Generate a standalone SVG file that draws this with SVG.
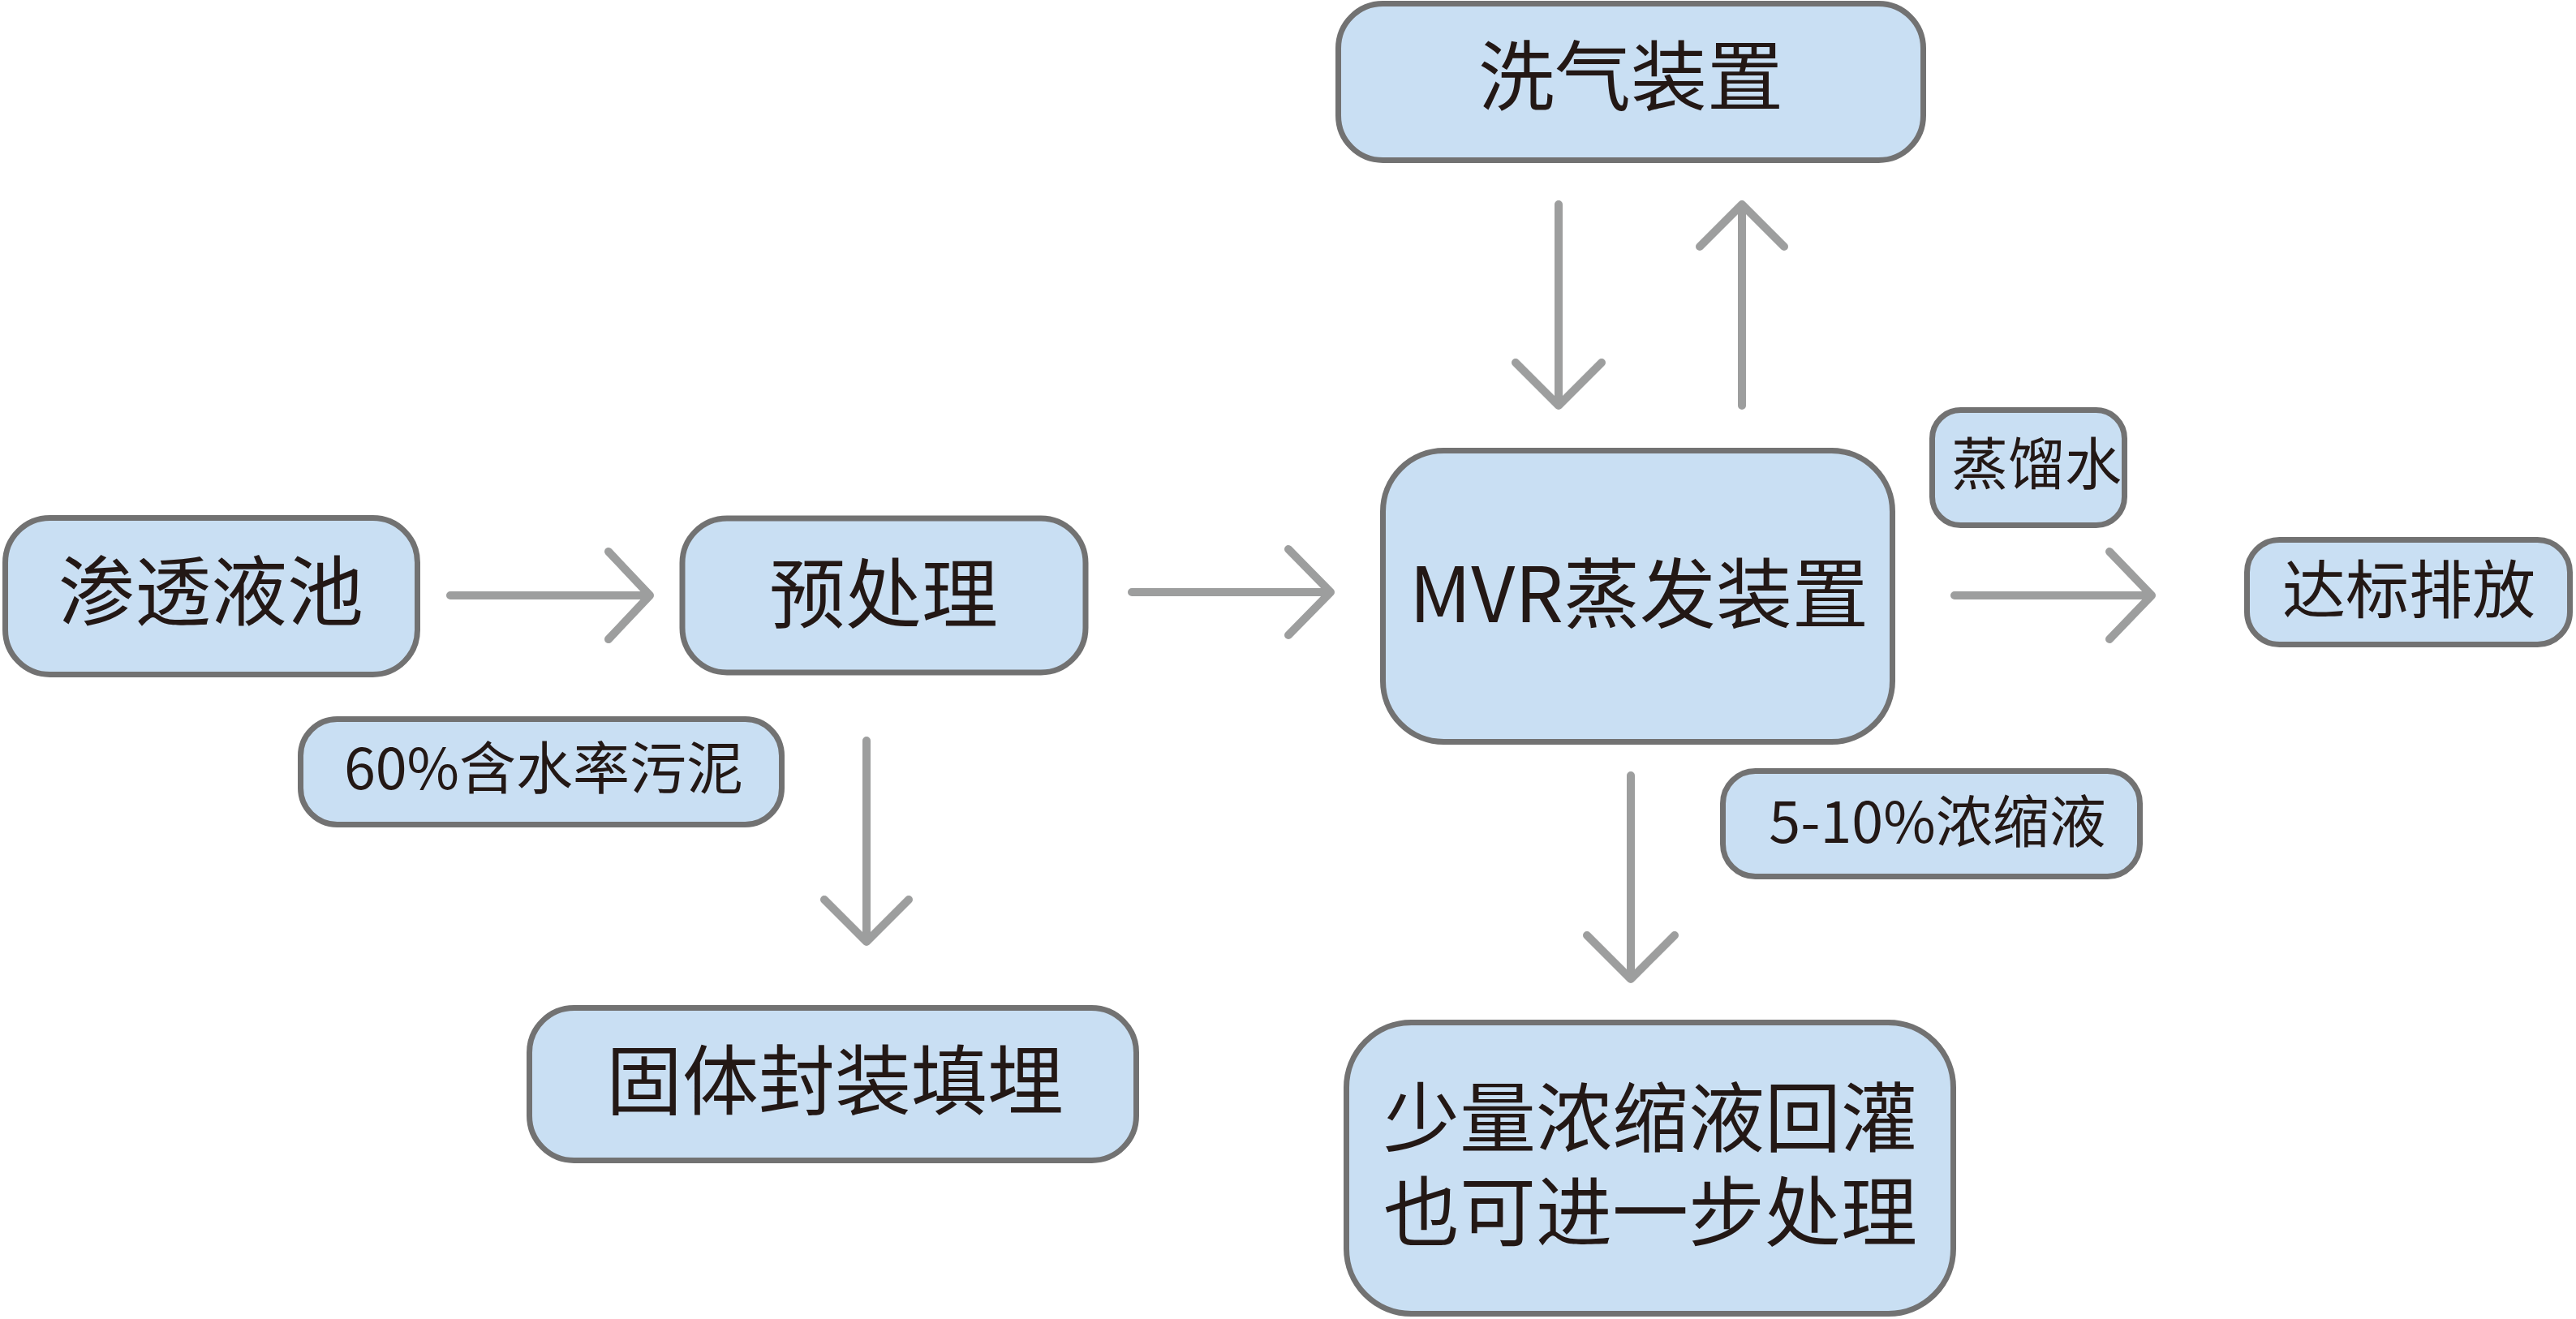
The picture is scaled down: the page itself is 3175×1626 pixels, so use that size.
<svg xmlns="http://www.w3.org/2000/svg" width="3175" height="1626" viewBox="0 0 3175 1626">
<style>
.box{fill:#c9dff3;stroke:#727272;stroke-width:7}
.t{font-family:"Noto Sans CJK SC","Noto Sans",sans-serif;fill:#231815;text-anchor:middle}
.big{font-size:94px}
.mid{font-size:78px}
.sm{font-size:70px}
.c{fill:none;stroke:#9d9e9e;stroke-width:10;stroke-linecap:round;stroke-linejoin:round}
</style>
<rect width="3175" height="1626" fill="#ffffff"/>
<g id="n-shentou"><rect class="box" x="6.5" y="638.5" width="508" height="193" rx="55"/><text class="t big" x="260" y="764">渗透液池</text></g>
<g id="n-yuchuli"><rect class="box" x="841" y="639" width="497" height="190" rx="55"/><text class="t big" x="1089" y="767">预处理</text></g>
<g id="n-wuni"><rect class="box" x="370.5" y="886.5" width="593" height="130" rx="45"/><text class="t sm" x="670" y="973">60%含水率污泥</text></g>
<g id="n-guti"><rect class="box" x="652.5" y="1242.5" width="748" height="188" rx="55"/><text class="t big" x="1029" y="1367">固体封装填埋</text></g>
<g id="n-xiqi"><rect class="box" x="1649.5" y="4.5" width="721" height="193" rx="55"/><text class="t big" x="2010" y="129">洗气装置</text></g>
<g id="n-mvr"><rect class="box" x="1704.5" y="555.5" width="628" height="359" rx="75"/><text class="t big" x="2020" y="767">MVR蒸发装置</text></g>
<g id="n-zhengliu"><rect class="box" x="2381.5" y="505.5" width="237" height="142" rx="35"/><text class="t sm" x="2510" y="598">蒸馏水</text></g>
<g id="n-dabiao"><rect class="box" x="2769.5" y="665.5" width="398" height="129" rx="40"/><text class="t mid" x="2969" y="756">达标排放</text></g>
<g id="n-nongsuo"><rect class="box" x="2123.5" y="950.5" width="514" height="130" rx="40"/><text class="t sm" x="2388" y="1039">5-10%浓缩液</text></g>
<g id="n-huiguan"><rect class="box" x="1659.5" y="1260.5" width="748" height="359" rx="80"/><text class="t big"><tspan x="2034" y="1413">少量浓缩液回灌</tspan><tspan x="2034" y="1529">也可进一步处理</tspan></text></g>
<g id="connectors">
<path class="c" d="M555 734H801M750 680L801 734L750 788"/>
<path class="c" d="M1395 730H1640M1588 677L1640 730L1588 783"/>
<path class="c" d="M1068 913V1161M1016 1109L1068 1161L1120 1109"/>
<path class="c" d="M1921 252V500M1868 447L1921 500L1974 447"/>
<path class="c" d="M2147 500V252M2095 304L2147 252L2199 304"/>
<path class="c" d="M2409 734H2652M2600 680L2652 734L2600 788"/>
<path class="c" d="M2010 956V1207M1956 1153L2010 1207L2064 1153"/>
</g>
</svg>
